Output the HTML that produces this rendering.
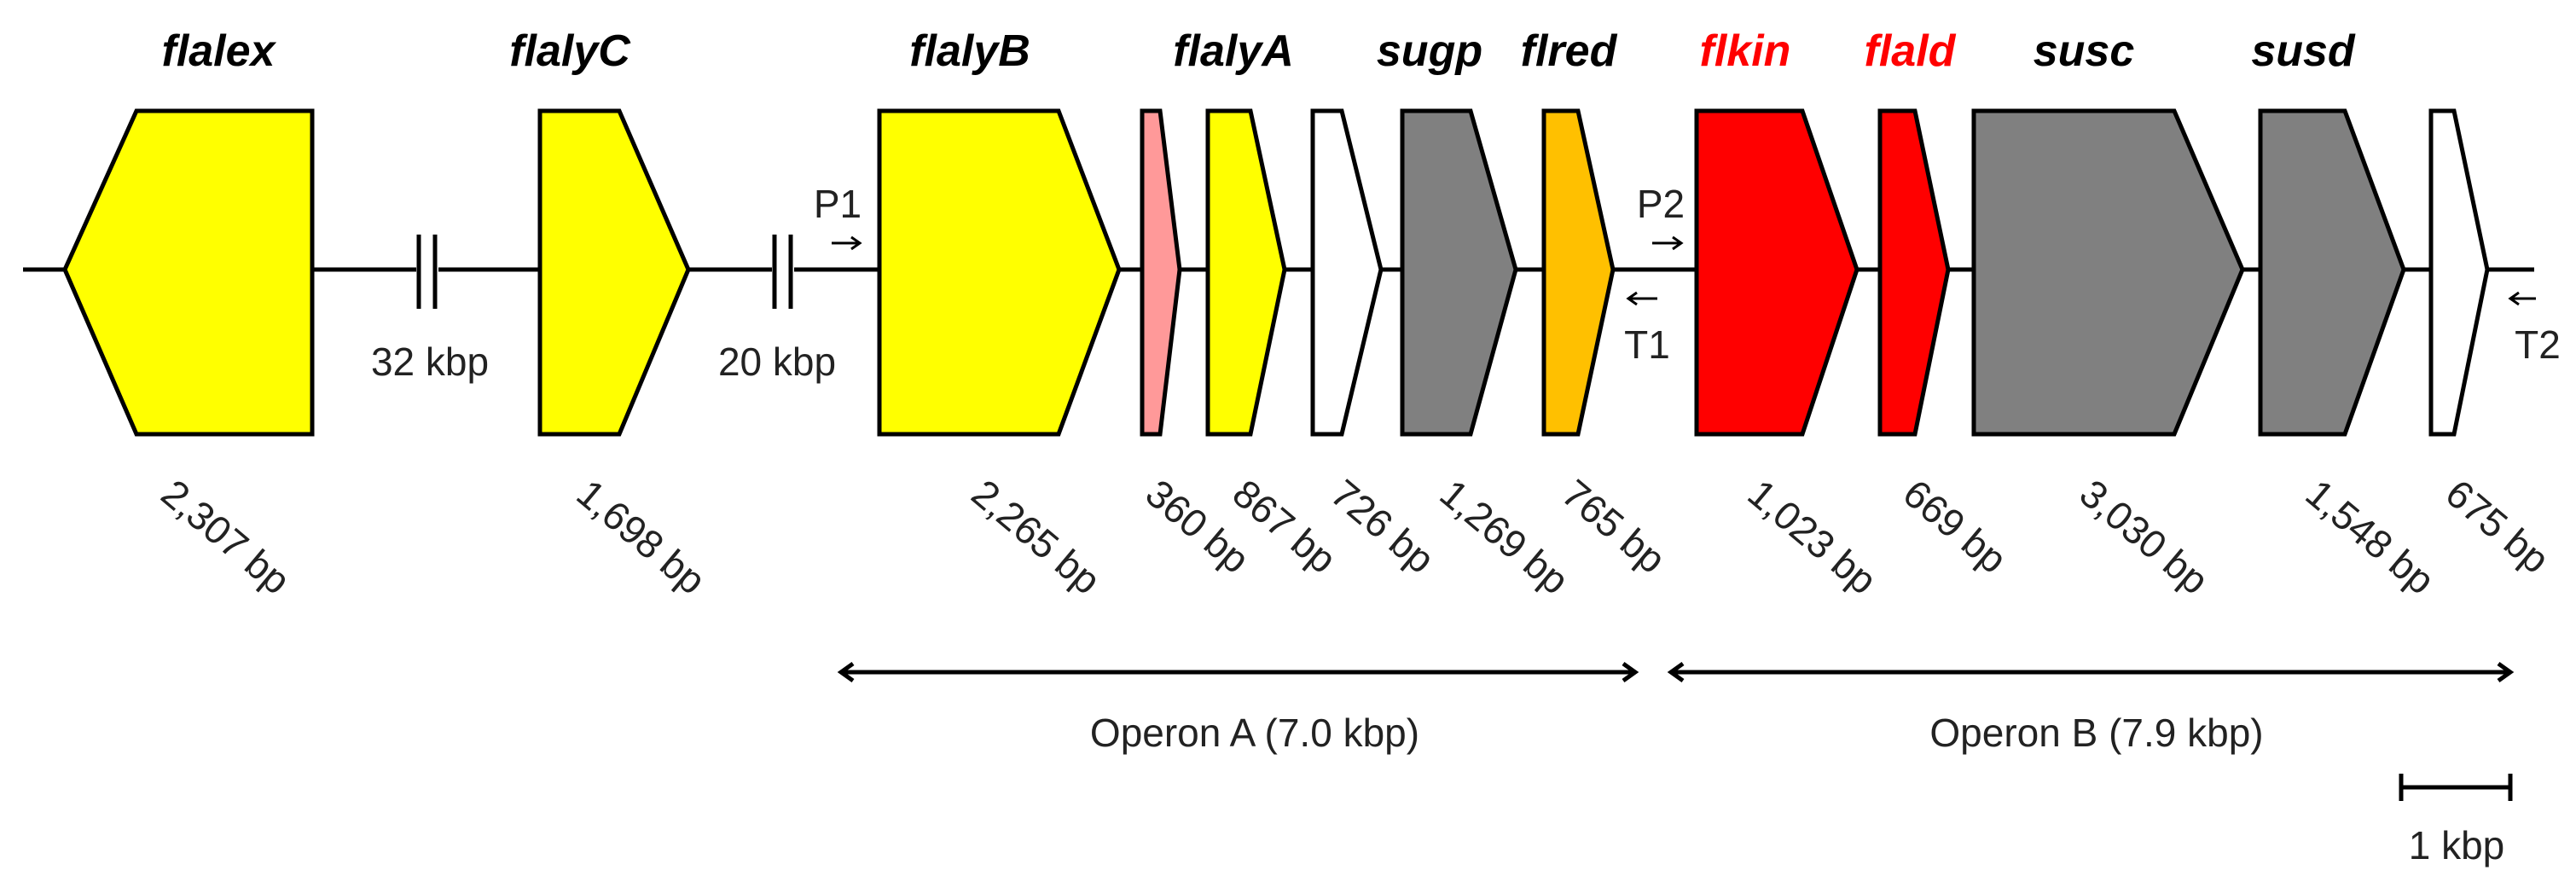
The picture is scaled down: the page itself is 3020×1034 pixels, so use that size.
<!DOCTYPE html>
<html><head><meta charset="utf-8"><style>
html,body{margin:0;padding:0;background:#fff;}
svg{display:block;}
text{font-family:"Liberation Sans",Arial,sans-serif;}
.t{font-weight:bold;font-style:italic;font-size:52px;text-anchor:middle;}
.l{font-size:46px;fill:#222;}
</style></head><body>
<svg id="fig" width="3020" height="1034" viewBox="0 0 3020 1034" xmlns="http://www.w3.org/2000/svg">
<g id="base">
<line x1="27" y1="316" x2="2971" y2="316" stroke="#000" stroke-width="5"/>
<rect x="488" y="300" width="26" height="32" fill="#fff"/>
<line x1="491" y1="275" x2="491" y2="362" stroke="#000" stroke-width="5"/>
<line x1="510" y1="275" x2="510" y2="362" stroke="#000" stroke-width="5"/>
<rect x="905" y="300" width="26" height="32" fill="#fff"/>
<line x1="908" y1="275" x2="908" y2="362" stroke="#000" stroke-width="5"/>
<line x1="927" y1="275" x2="927" y2="362" stroke="#000" stroke-width="5"/>
<text class="l" x="504" y="440" text-anchor="middle">32 kbp</text>
<text class="l" x="911" y="440" text-anchor="middle">20 kbp</text>
<text class="l" x="982" y="255" text-anchor="middle">P1</text>
<text class="l" x="1947" y="255" text-anchor="middle">P2</text>
<text class="l" x="1931" y="420" text-anchor="middle">T1</text>
<text class="l" x="2975" y="420" text-anchor="middle">T2</text>
<path d="M975 285 H1008 M998 278 L1008 285 L998 292" stroke="#000" stroke-width="3" fill="none"/>
<path d="M1937 285 H1971 M1961 278 L1971 285 L1961 292" stroke="#000" stroke-width="3" fill="none"/>
<path d="M1943 350 H1909 M1919 343 L1909 350 L1919 357" stroke="#000" stroke-width="3" fill="none"/>
<path d="M2973 350 H2943 M2953 343 L2943 350 L2953 357" stroke="#000" stroke-width="3" fill="none"/>
</g>
<g id="genes"></g>
<g>
<path d="M986 788 H1917 M1000 778 L986 788 L1000 798 M1903 778 L1917 788 L1903 798" stroke="#000" stroke-width="5" fill="none"/>
<path d="M1959 788 H2943 M1973 778 L1959 788 L1973 798 M2929 778 L2943 788 L2929 798" stroke="#000" stroke-width="5" fill="none"/>
<text class="l" x="1471" y="875" text-anchor="middle">Operon A (7.0 kbp)</text>
<text class="l" x="2458" y="875" text-anchor="middle">Operon B (7.9 kbp)</text>
<path d="M2815 923 H2943 M2815 907 V939 M2943 907 V939" stroke="#000" stroke-width="5" fill="none"/>
<text class="l" x="2880" y="1007" text-anchor="middle">1 kbp</text>
</g>
</svg>
<script>
const geneNames = ["flalex","flalyC","flalyB","","flalyA","","sugp","flred","flkin","flald","susc","susd",""];
const geneSizes = ["2,307","1,698","2,265","360","867","726","1,269","765","1,023","669","3,030","1,548","675"];
const geneColors = ["#FFFF00","#FFFF00","#FFFF00","#FF9999","#FFFF00","#FFFFFF","#808080","#FFC000","#FF0000","#FF0000","#808080","#808080","#FFFFFF"];
const labelColors = ["#000","#000","#000","#000","#000","#000","#000","#000","#FF0000","#FF0000","#000","#000","#000"];
const geom = [[366,160,76],[633,726,807],[1031,1241,1312],[1339,1360,1383],[1416,1466,1506],[1539,1573,1619],[1644,1724,1777],[1810,1850,1891],[1989,2113,2177],[2204,2245,2284],[2314,2549,2629],[2650,2749,2818],[2850,2877,2916]];
const sizeLabelX = [190,677,1140,1344,1446,1561,1689,1832,2050,2232,2439,2704,2868];
const titleX = [256,668,1137,0,1446,0,1676,1839,2046,2239,2443,2700,0];
const NS="http://www.w3.org/2000/svg";
const geneLayer=document.getElementById('genes');
const boxTop=130, boxBot=509, boxMid=316;
geneSizes.forEach((s,i)=>{
  const [a,n,t]=geom[i];
  const p=document.createElementNS(NS,'polygon');
  p.setAttribute('points',`${a},${boxTop} ${n},${boxTop} ${t},${boxMid} ${n},${boxBot} ${a},${boxBot}`);
  p.setAttribute('fill',geneColors[i]);p.setAttribute('stroke','#000');p.setAttribute('stroke-width','5');
  
  
  geneLayer.appendChild(p);
  if(geneNames[i]){
    const tt=document.createElementNS(NS,'text');
    tt.setAttribute('class','t');tt.setAttribute('x',titleX[i]);tt.setAttribute('y',77);tt.setAttribute('fill',labelColors[i]);
    tt.textContent=geneNames[i];
    
    
    geneLayer.appendChild(tt);
  }
  const lx=sizeLabelX[i]-4, ly=584;
  const lt=document.createElementNS(NS,'text');
  lt.setAttribute('class','l');lt.setAttribute('x',lx);lt.setAttribute('y',ly);
  lt.setAttribute('transform',`rotate(40 ${lx} ${ly})`);
  lt.textContent=s+' bp';
  
  
  geneLayer.appendChild(lt);
});
</script>
</body></html>
